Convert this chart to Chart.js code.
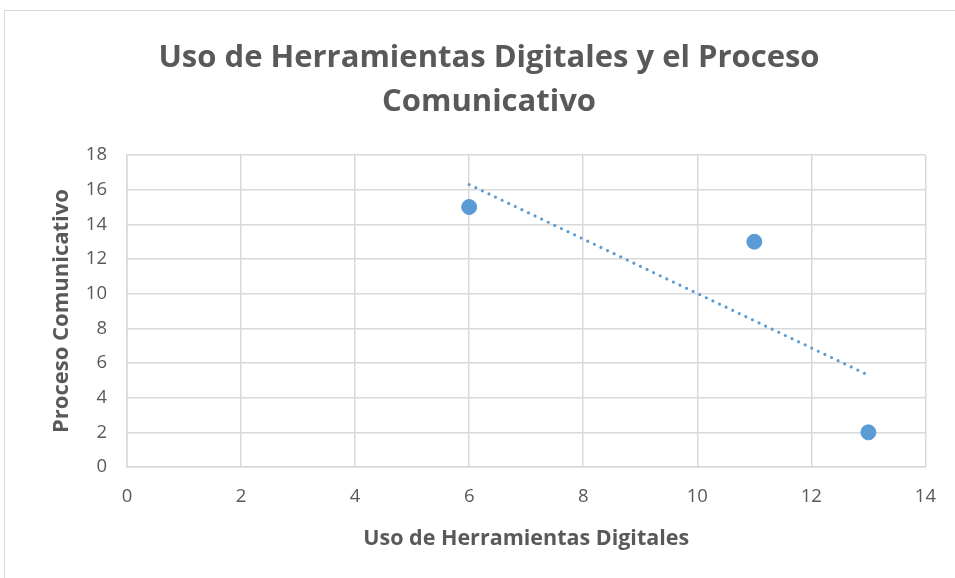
<!DOCTYPE html>
<html>
<head>
<meta charset="utf-8">
<script src="https://cdn.jsdelivr.net/npm/chart.js@4"></script>
<style>
  html, body { margin: 0; padding: 0; background: #fff; overflow: hidden; }
  #frame { position: absolute; left: 4px; top: 10px; width: 960px; height: 580px; border: 1px solid #d9d9d9; }
  #wrap { position: absolute; left: 0; top: 0; width: 955px; height: 578px; }
</style>
</head>
<body>
<div id="frame"></div>
<div id="wrap"><canvas id="chart" width="955" height="578"></canvas></div>
<script>
// datos
const usoHerramientas = [6, 11, 13];
const procesoComunicativo = [15, 13, 2];
// linea de tendencia (extremos)
const tendenciaX = [6, 13];
const tendenciaY = [16.3, 5.3];

const xTicks = [0, 2, 4, 6, 8, 10, 12, 14];
const yTicks = [0, 2, 4, 6, 8, 10, 12, 14, 16, 18];

const azul = '#5B9BD5';
const gris = '#595959';

const ctx = document.getElementById('chart');
new Chart(ctx, {
  type: 'scatter',
  data: {
    datasets: [
      {
        label: 'Proceso Comunicativo',
        data: usoHerramientas.map((x, i) => ({ x: x, y: procesoComunicativo[i] })),
        backgroundColor: azul,
        borderColor: azul,
        pointRadius: 7.5,
        pointHoverRadius: 7.5
      },
      {
        type: 'line',
        label: 'Tendencia',
        data: tendenciaX.map((x, i) => ({ x: x, y: tendenciaY[i] })),
        borderColor: azul,
        borderWidth: 3.2,
        borderDash: [0, 7.3],
        borderCapStyle: 'round',
        pointRadius: 0,
        fill: false
      }
    ]
  },
  options: {
    responsive: false,
    animation: false,
    layout: { padding: { left: 52, right: 29, top: 0, bottom: 0 } },
    plugins: {
      legend: { display: false },
      tooltip: { enabled: false },
      title: {
        display: true,
        text: ['Uso de Herramientas Digitales y el Proceso', 'Comunicativo'],
        color: gris,
        font: { family: 'Open Sans', size: 31, weight: 'bold', lineHeight: 1.42 },
        padding: { top: 36, bottom: 31 }
      }
    },
    scales: {
      x: {
        type: 'linear',
        min: 0,
        max: 14,
        afterBuildTicks: (s) => { s.ticks = xTicks.map(v => ({ value: v })); },
        afterFit: (s) => { s.height = 111; },
        grid: { color: '#d9d9d9', lineWidth: 1.5, drawTicks: false },
        border: { color: '#d9d9d9', width: 1.5 },
        ticks: { color: gris, font: { family: 'Open Sans', size: 18.5 }, padding: 19 },
        title: {
          display: true,
          text: 'Uso de Herramientas Digitales',
          color: gris,
          font: { family: 'Open Sans', size: 21.5, weight: 'bold' },
          padding: { top: 8, bottom: 26 }
        }
      },
      y: {
        min: 0,
        max: 18,
        afterBuildTicks: (s) => { s.ticks = yTicks.map(v => ({ value: v })); },
        afterFit: (s) => { s.width = 75; },
        grid: { color: '#d9d9d9', lineWidth: 1.5, drawTicks: false },
        border: { color: '#d9d9d9', width: 1.5 },
        ticks: { color: gris, font: { family: 'Open Sans', size: 18.5 }, padding: 20 },
        title: {
          display: true,
          text: 'Proceso Comunicativo',
          color: gris,
          font: { family: 'Open Sans', size: 22, weight: 'bold' },
          padding: { top: -3, bottom: 0 }
        }
      }
    }
  }
});
</script>
</body>
</html>
